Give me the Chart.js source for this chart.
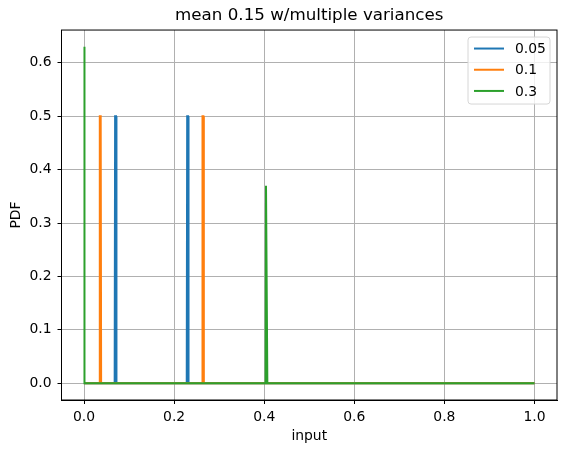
<!DOCTYPE html>
<html>
<head>
<meta charset="utf-8">
<script src="https://cdn.jsdelivr.net/npm/chart.js@4.4.1/dist/chart.umd.min.js"></script>
<style>
  html, body { margin: 0; padding: 0; background: #fff; }
  #wrap { position: relative; width: 567px; height: 453px; }
</style>
</head>
<body>
<div id="wrap"><canvas id="pdf-chart"></canvas></div>
<script>
// series: x positions and PDF values
const seriesLabels = ['0.05', '0.1', '0.3'];
const seriesColors = ['#1f77b4', '#ff7f0e', '#2ca02c'];

const blueX = [0, 0.068, 0.069, 0.071, 0.072, 0.228, 0.229, 0.231, 0.232, 1.0];
const blueY = [0, 0, 0.5, 0.5, 0, 0, 0.5, 0.5, 0, 0];

const orangeX = [0, 0.034, 0.035, 0.037, 0.038, 0.262, 0.263, 0.265, 0.266, 1.0];
const orangeY = [0, 0, 0.5, 0.5, 0, 0, 0.5, 0.5, 0, 0];

const greenX = [0, 0, 0.001, 0.002, 0.403, 0.404, 0.406, 0.407, 1.0];
const greenY = [0, 0.63, 0.63, 0, 0, 0.37, 0.37, 0, 0];

const xTicks = [0, 0.2, 0.4, 0.6, 0.8, 1.0];
const yTicks = [0, 0.1, 0.2, 0.3, 0.4, 0.5, 0.6];

const seriesX = [blueX, orangeX, greenX];
const seriesY = [blueY, orangeY, greenY];

const FONT = 'DejaVu Sans, sans-serif';

// later series go on top, like matplotlib
const datasets = seriesLabels.map((label, i) => ({
  label: label,
  data: seriesX[i].map((x, j) => ({ x: x, y: seriesY[i][j] })),
  borderColor: seriesColors[i],
  backgroundColor: seriesColors[i],
  borderWidth: 2,
  pointRadius: 0,
  tension: 0,
  fill: false,
  order: seriesLabels.length - i,
}));

// matplotlib-style frame + legend in the upper right
const framePlugin = {
  id: 'frame',
  afterDatasetsDraw(chart) {
    const { ctx, chartArea: a } = chart;
    ctx.save();
    ctx.strokeStyle = '#000';
    ctx.lineWidth = 1;
    ctx.strokeRect(a.left, a.top, a.right - a.left, a.bottom - a.top);

    // legend box
    const bx = a.right - 89, by = a.top + 7, bw = 82, bh = 67, r = 3;
    ctx.beginPath();
    ctx.moveTo(bx + r, by);
    ctx.arcTo(bx + bw, by, bx + bw, by + bh, r);
    ctx.arcTo(bx + bw, by + bh, bx, by + bh, r);
    ctx.arcTo(bx, by + bh, bx, by, r);
    ctx.arcTo(bx, by, bx + bw, by, r);
    ctx.closePath();
    ctx.fillStyle = 'rgba(255,255,255,0.8)';
    ctx.fill();
    ctx.strokeStyle = '#d6d6d6';
    ctx.stroke();

    ctx.font = '13.9px ' + FONT;
    ctx.textBaseline = 'middle';
    ctx.textAlign = 'left';
    seriesLabels.forEach((label, i) => {
      const ly = by + 11.5 + i * 21.2;
      ctx.strokeStyle = seriesColors[i];
      ctx.lineWidth = 2;
      ctx.beginPath();
      ctx.moveTo(bx + 6, ly);
      ctx.lineTo(bx + 36, ly);
      ctx.stroke();
      ctx.fillStyle = '#000';
      ctx.fillText(label, bx + 47, ly + 1);
    });
    ctx.restore();
  },
};

const ctx = document.getElementById('pdf-chart').getContext('2d');

new Chart(ctx, {
  type: 'line',
  data: { datasets: datasets },
  options: {
    responsive: true,
    maintainAspectRatio: false,
    animation: false,
    layout: { padding: { left: 0, right: 10, top: 0, bottom: 0 } },
    plugins: {
      legend: { display: false },
      tooltip: { enabled: false },
      title: {
        display: true,
        text: 'mean 0.15 w/multiple variances',
        color: '#000',
        fullSize: false,
        font: { family: FONT, size: 16.7, weight: 'normal', lineHeight: 1.2 },
        padding: { top: 6, bottom: 4 },
      },
    },
    scales: {
      x: {
        type: 'linear',
        min: -0.05,
        max: 1.05,
        afterFit(scale) { scale.height = 53; },
        afterBuildTicks(scale) { scale.ticks = xTicks.map(v => ({ value: v })); },
        grid: { color: '#b0b0b0', lineWidth: 1, tickColor: '#000', tickLength: 4 },
        border: { color: '#000', width: 1 },
        ticks: {
          color: '#000',
          padding: 5,
          maxRotation: 0,
          font: { family: FONT, size: 13.9 },
          callback: v => v.toFixed(1),
        },
        title: {
          display: true,
          text: 'input',
          color: '#000',
          font: { family: FONT, size: 13.9 },
          padding: { top: 0, bottom: 8 },
        },
      },
      y: {
        type: 'linear',
        min: -0.0315,
        max: 0.6615,
        afterFit(scale) { scale.width = 61.5; },
        afterBuildTicks(scale) { scale.ticks = yTicks.map(v => ({ value: v })); },
        grid: { color: '#b0b0b0', lineWidth: 1, tickColor: '#000', tickLength: 4 },
        border: { color: '#000', width: 1 },
        ticks: {
          color: '#000',
          padding: 6,
          font: { family: FONT, size: 13.9 },
          callback: v => v.toFixed(1),
        },
        title: {
          display: true,
          text: 'PDF',
          color: '#000',
          font: { family: FONT, size: 13.9 },
          padding: { top: 8, bottom: 0 },
        },
      },
    },
  },
  plugins: [framePlugin],
});
</script>
</body>
</html>
